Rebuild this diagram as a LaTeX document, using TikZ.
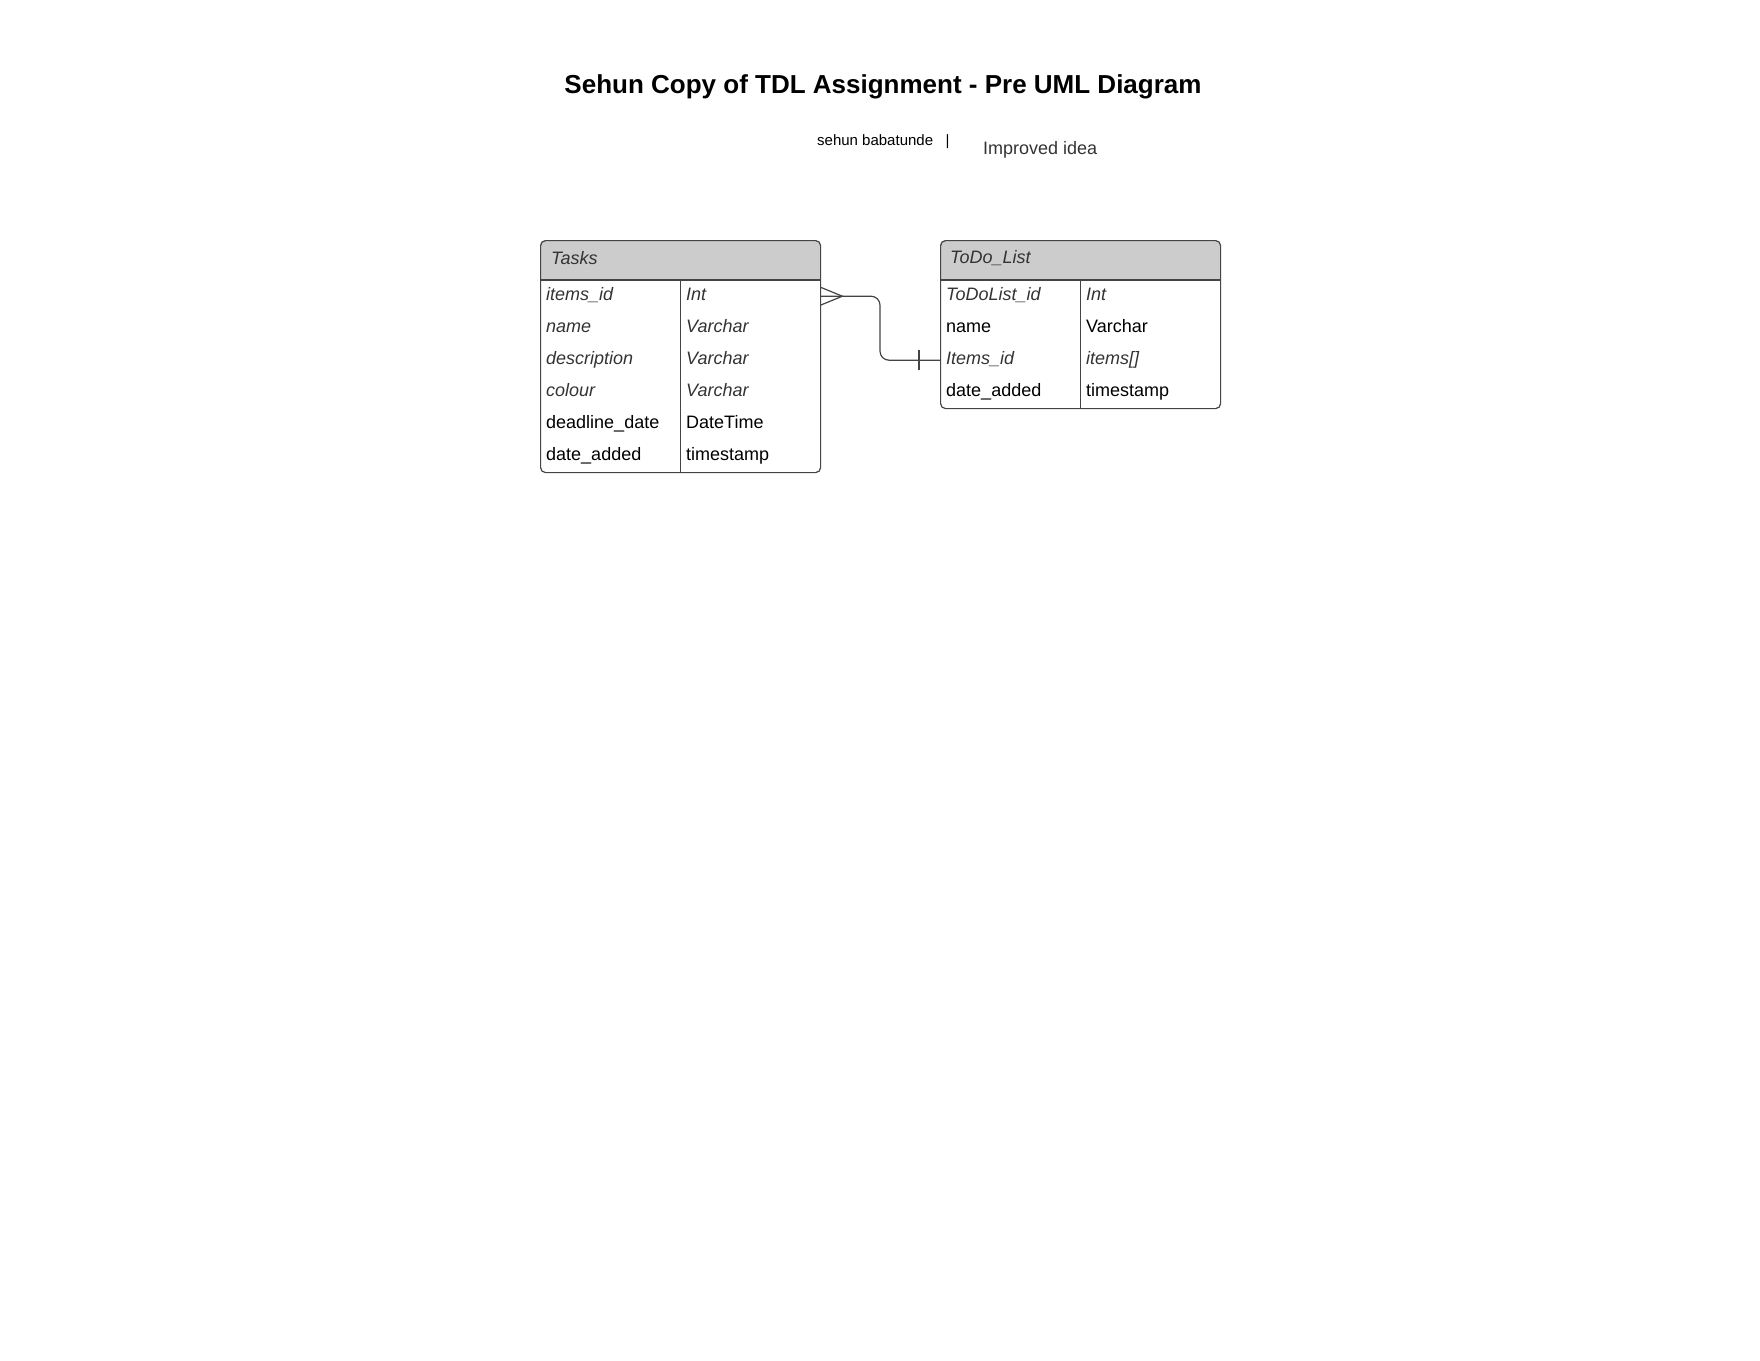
\documentclass[tikz,border=0pt]{standalone}
\usepackage{fontspec}
\setmainfont{Liberation Sans}
\usetikzlibrary{calc}
\definecolor{hdrgray}{HTML}{CCCCCC}
\definecolor{linegray}{HTML}{444444}
\definecolor{txtgray}{HTML}{333333}

\begin{document}
\begin{tikzpicture}[x=1pt,y=-1pt,
	line/.style={draw=linegray, line width=1.2pt},
	cell/.style={anchor=north west, minimum height=32pt, text width=128pt, inner xsep=6pt, inner ysep=0pt, align=left, text height=13pt, text depth=4pt, font=\fontsize{18}{21}\selectfont},
	ital/.style={font=\fontsize{18}{21}\selectfont\itshape, text=txtgray},
	plain/.style={text=black},
	tablebox/.style={line, rounded corners=5pt, anchor=north west, inner sep=0pt}]
	\useasboundingbox (0,0) rectangle (1760,1360);
	
	% title
	\node[font=\fontsize{26}{30}\selectfont\bfseries] (title) at (883,87) {Sehun Copy of TDL Assignment - Pre UML Diagram};
	\node[anchor=west, inner sep=0pt, font=\fontsize{15}{18}\selectfont] (author) at (817,142) {sehun babatunde \ \ |};
	\node[anchor=west, inner sep=0pt, text=txtgray, font=\fontsize{18}{21}\selectfont] (idea) at (983,150) {Improved idea};
	
	% Tasks table
	\fill[hdrgray] (540,280) [rounded corners=5pt] -- (540,240) -- (820,240) [sharp corners] -- (820,280) -- cycle;
	\node[tablebox, minimum width=280pt, minimum height=232pt] (tasks) at (540,240) {};
	\node[anchor=west, inner sep=0pt, ital] (tasks-h) at (551,258) {Tasks};
	\foreach \f/\t/\s [count=\i] in {items\_id/Int/ital, name/Varchar/ital, description/Varchar/ital, colour/Varchar/ital, deadline\_date/DateTime/plain, date\_added/timestamp/plain}
	{
		\node[cell,\s] (ta\i) at (540,{248+32*\i}) {\f};
		\node[cell,\s] (tb\i) at (680,{248+32*\i}) {\t};
	}
	\draw[line] (ta1.north west) -- (tb1.north east);
	\draw[line] (ta1.north east) -- (ta6.south east);
	
	% ToDo_List table
	\fill[hdrgray] (940,280) [rounded corners=5pt] -- (940,240) -- (1220,240) [sharp corners] -- (1220,280) -- cycle;
	\node[tablebox, minimum width=280pt, minimum height=168pt] (todo) at (940,240) {};
	\node[anchor=west, inner sep=0pt, ital] (todo-h) at (950,258) {ToDo\_List};
	\foreach \f/\t/\s [count=\i] in {ToDoList\_id/Int/ital, name/Varchar/plain, Items\_id/items[]/ital, date\_added/timestamp/plain}
	{
		\node[cell,\s] (la\i) at (940,{248+32*\i}) {\f};
		\node[cell,\s] (lb\i) at (1080,{248+32*\i}) {\t};
	}
	\draw[line] (la1.north west) -- (lb1.north east);
	\draw[line] (la1.north east) -- (la4.south east);
	
	% relation
	\draw[line, rounded corners=9pt] (tb1.east) -| ($(la3.west)+(-60,0)$) -- (la3.west);
	\draw[line] ($(tb1.east)+(0,-9)$) -- ($(tb1.east)+(22,0)$) -- ($(tb1.east)+(0,9)$);
	\draw[line] ($(la3.west)+(-21,-10)$) -- ($(la3.west)+(-21,10)$);
\end{tikzpicture}
\end{document}
